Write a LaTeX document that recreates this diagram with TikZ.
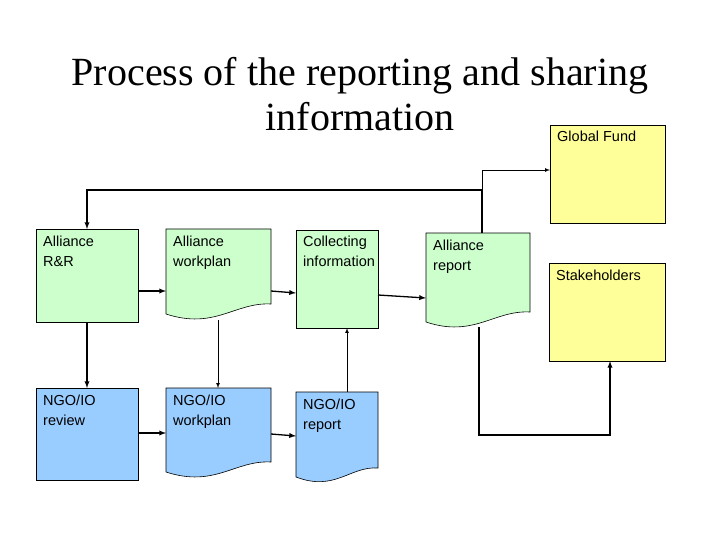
\documentclass[tikz,border=0pt]{standalone}
\usepackage{fontspec}
\setmainfont{Liberation Serif}
\newfontfamily\arial{Liberation Sans}
\begin{document}
\begin{tikzpicture}[x=1pt,y=-1pt,
  lbl/.style={anchor=north west,align=left,font=\arial\fontsize{14.5}{19.5}\selectfont,inner sep=0pt},
  arr/.style={-latex,line width=1.3pt},
  tarr/.style={-latex,line width=0.7pt},
  bx/.style={draw=black,line width=0.6pt}]
\useasboundingbox (0,0) rectangle (720,540);
\definecolor{gr}{HTML}{CCFFCC}\definecolor{bl}{HTML}{99CCFF}\definecolor{ye}{HTML}{FFFF99}
\node[font=\fontsize{40}{45}\selectfont,align=center] (title) at (360,94) {Process of the reporting and sharing\\information};
% plain boxes
\path[bx,fill=gr] (36,229) rectangle (138,322);
\node[lbl] (rr) at (43,236) {Alliance\\R\&R};
\coordinate (rrT) at (87,229); \coordinate (rrB) at (87,322); \coordinate (rrR) at (138,291);
\path[bx,fill=gr] (296,230) rectangle (378,328);
\node[lbl] (ci) at (303,236) {Collecting\\information};
\coordinate (ciB) at (347,328); \coordinate (ciL) at (296,293); \coordinate (ciR) at (378,295);
\path[bx,fill=bl] (36,388) rectangle (138,480);
\node[lbl] (nr) at (43,395) {NGO/IO\\review};
\coordinate (nrT) at (87,388); \coordinate (nrR) at (138,433);
\path[bx,fill=ye] (550,125) rectangle (665,223);
\node[lbl] (gf) at (557,131) {Global Fund};
\coordinate (gfL) at (550,170);
\path[bx,fill=ye] (549,263) rectangle (665,361);
\node[lbl] (st) at (556,270) {Stakeholders};
\coordinate (stB) at (610,361);
% documents
\path[bx,fill=gr] (166,229) -- (271,229) -- (271,304) .. controls (235,302) and (215,330) .. (166,314) -- cycle;
\node[lbl] (aw) at (173,236) {Alliance\\workplan};
\coordinate (awB) at (218,320); \coordinate (awL) at (166,291); \coordinate (awR) at (271,291);
\path[bx,fill=gr] (426,233) -- (530,233) -- (530,312) .. controls (494,310) and (474,338) .. (426,322) -- cycle;
\node[lbl] (ar) at (433,240) {Alliance\\report};
\coordinate (arT) at (482,233); \coordinate (arB) at (479,327); \coordinate (arL) at (426,298);
\path[bx,fill=bl] (166,388) -- (271,388) -- (271,462) .. controls (235,460) and (215,488) .. (166,472) -- cycle;
\node[lbl] (nw) at (173,395) {NGO/IO\\workplan};
\coordinate (nwT) at (218,388); \coordinate (nwL) at (166,433); \coordinate (nwR) at (271,434);
\path[bx,fill=bl] (296,392) -- (378,392) -- (378,468) .. controls (350,466) and (335,492) .. (296,477) -- cycle;
\node[lbl] (np) at (303,399) {NGO/IO\\report};
\coordinate (npT) at (347,392); \coordinate (npL) at (296,436);
% connectors
\draw[arr] (arT) -- (482,190) -- (87,190) -- (rrT);
\draw[tarr] (482,190) |- (gfL);
\draw[arr] (rrB) -- (nrT);
\draw[arr] (rrR) -- (awL);
\draw[arr] (awR) -- (ciL);
\draw[arr] (ciR) -- (arL);
\draw[tarr] (awB) -- (nwT);
\draw[arr] (nrR) -- (nwL);
\draw[arr] (nwR) -- (npL);
\draw[tarr] (npT) -- (ciB);
\draw[arr] (arB) |- (610,435) -- (stB);
\end{tikzpicture}
\end{document}
